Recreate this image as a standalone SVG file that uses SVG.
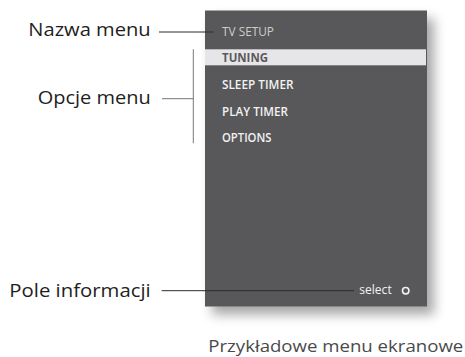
<svg xmlns="http://www.w3.org/2000/svg" width="465" height="357" viewBox="0 0 465 357">
<style>
.lbl{font-family:"Open Sans","Noto Sans","DejaVu Sans",sans-serif;font-size:18.5px;fill:#1e1e1e;text-anchor:end}
.mi{font-family:"Open Sans","Noto Sans","Liberation Sans",sans-serif;font-size:12.5px;font-weight:600;fill:#f2f2f2}
.ln{stroke:#2a2a2a;stroke-width:1;fill:none}
</style>
<defs>
<filter id="sh" x="-20%" y="-20%" width="150%" height="150%">
<feDropShadow dx="7" dy="8" stdDeviation="6" flood-color="#000" flood-opacity="0.35"/>
</filter>
</defs>
<g id="screen">
<rect x="205" y="10.5" width="222" height="296" fill="#58585a" filter="url(#sh)"/>
<text class="mi" x="222" y="35.7" style="fill:#cdcdcd;font-weight:500" textLength="52" lengthAdjust="spacingAndGlyphs">TV SETUP</text>
<rect x="205" y="49.3" width="221" height="16" fill="#e6e6e8"/>
<text class="mi" x="222" y="61.5" style="fill:#5a5a5c;font-weight:bold" textLength="46" lengthAdjust="spacingAndGlyphs">TUNING</text>
<text class="mi" x="222" y="89" textLength="71.5" lengthAdjust="spacingAndGlyphs">SLEEP TIMER</text>
<text class="mi" x="222" y="115.5" textLength="66" lengthAdjust="spacingAndGlyphs">PLAY TIMER</text>
<text class="mi" x="222" y="141.5" textLength="49.5" lengthAdjust="spacingAndGlyphs">OPTIONS</text>
<text x="359.3" y="294" style="font-family:'Open Sans','Noto Sans',sans-serif;font-size:12.5px;fill:#f2f2f2" textLength="32.4" lengthAdjust="spacingAndGlyphs">select</text>
<circle cx="405.7" cy="290.7" r="3.2" fill="none" stroke="#f2f2f2" stroke-width="1.6"/>
</g>
<g id="label-nazwa">
<text class="lbl" x="150.7" y="35.7" textLength="122.4" lengthAdjust="spacingAndGlyphs">Nazwa menu</text>
</g>
<g id="label-opcje">
<text class="lbl" x="150.7" y="104" textLength="113" lengthAdjust="spacingAndGlyphs">Opcje menu</text>
</g>
<g id="label-pole">
<text class="lbl" x="150.7" y="296.7" textLength="141.4" lengthAdjust="spacingAndGlyphs">Pole informacji</text>
</g>
<g id="caption">
<text x="208.3" y="351.7" style="font-family:'Open Sans','Noto Sans',sans-serif;font-size:16.5px;fill:#4a4a4a" textLength="255" lengthAdjust="spacingAndGlyphs">Przykładowe menu ekranowe</text>
</g>
<g id="connectors">
<line class="ln" x1="159" y1="32" x2="213.5" y2="32"/>
<line class="ln" x1="162" y1="98.7" x2="193.3" y2="98.7" style="stroke:#777"/>
<line class="ln" x1="193.3" y1="49.3" x2="193.3" y2="143.3" style="stroke:#777"/>
<line class="ln" x1="161.7" y1="290.7" x2="354" y2="290.7"/>
</g>
</svg>
